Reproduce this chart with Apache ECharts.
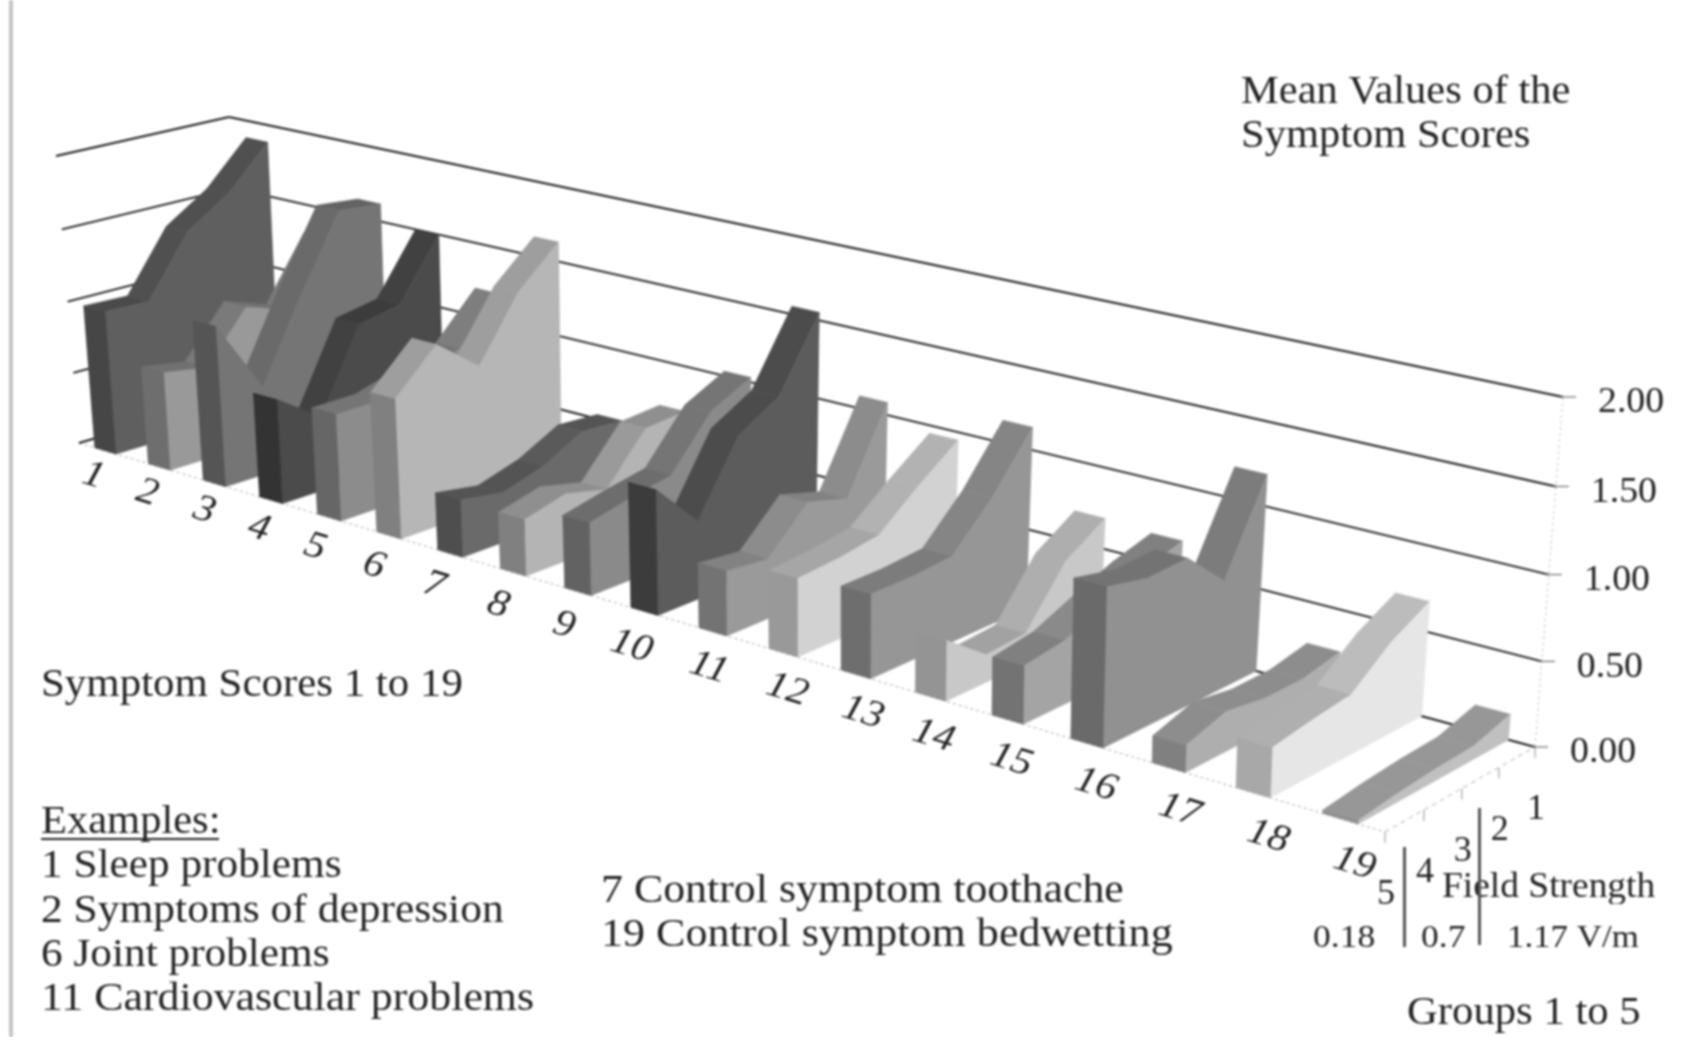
<!DOCTYPE html>
<html>
<head>
<meta charset="utf-8">
<script src="https://cdn.jsdelivr.net/npm/echarts@6/dist/echarts.min.js"></script>
<style>html,body{margin:0;padding:0;background:#fff}#chart{width:1684px;height:1037px;filter:blur(0.8px)}</style>
</head>
<body>
<div id="chart"></div>
<script>
const symptoms = ['1','2','3','4','5','6','7','8','9','10','11','12','13','14','15','16','17','18','19'];
const groupNames = ['5','4','3','2','1'];
const valueTicks = [0, 0.5, 1, 1.5, 2];
const valueLabels = ['0.00','0.50','1.00','1.50','2.00'];
const group1 = [1.88,1.30,1.62,1.50,1.19,1.63,0.53,0.70,1.03,1.55,1.08,0.95,1.14,0.69,0.67,1.19,0.25,0.68,0.15];
const group2 = [1.59,0.87,1.65,1.10,0.90,1.38,0.55,0.68,0.90,1.10,0.56,0.76,0.80,0.53,0.60,0.66,0.20,0.55,0.08];
const group3 = [1.40,0.97,1.15,1.05,0.80,0.97,0.41,0.37,0.58,0.95,0.64,0.55,0.54,0.19,0.50,0.90,0.20,0.36,0.07];
const group4 = [0.99,0.63,0.60,0.50,0.72,1.20,0.33,0.44,0.53,0.50,0.38,0.51,0.52,0.17,0.39,0.89,0.24,0.33,0.05];
const group5 = [1.00,0.68,1.10,0.71,0.72,0.93,0.38,0.37,0.47,0.80,0.41,0.49,0.52,0.37,0.35,0.95,0.16,0.29,0.02];

// styles, front cap / top strip / side wall per symptom
const capColors  = ['#464646','#6e6e6e','#555555','#333333','#666666','#808080','#4e4e4e','#808080','#626262','#3c3c3c','#737373','#999999','#6e6e6e','#949494','#737373','#6a6a6a','#808080','#a8a8a8','#909090'];
const topColors  = ['#505050','#7a7a7a','#6a6a6a','#414141','#7e7e7e','#9e9e9e','#5a5a5a','#9a9a9a','#757575','#4c4c4c','#8c8c8c','#b2b2b2','#858585','#aeaeae','#8a8a8a','#7c7c7c','#989898','#bcbcbc','#a2a2a2'];
const sideColors = ['#5f5f5f','#999999','#757575','#4b4b4b','#8c8c8c','#b6b6b6','#6a6a6a','#b4b4b4','#8a8a8a','#5c5c5c','#9a9a9a','#d2d2d2','#969696','#c8c8c8','#a4a4a4','#919191','#aeaeae','#e6e6e6','#c0c0c0'];
// horizontal nudge of each symptom label from its slot
const labelNudge = [-12,-12,-10,-12,-14,-15,-16,-15,-14,-13,-4,4,7,3,4,9,11,15,14];

// the box of the 3D view, as it lies on the page
const BOX = {
  flb:[79,443], frb:[1385,832], blb:[243,395], brb:[1535,747],
  flt:[56,156], frt:[1401,471], blt:[229,117], brt:[1563,397]
};
const PERSP_S = 1.31, PERSP_D = 1.05, PERSP_V = 1.03, VMAX = 2;
const persp = (a, w) => a / (a + w * (1 - a));
const lerp = (a, b, k) => [a[0] + (b[0] - a[0]) * k, a[1] + (b[1] - a[1]) * k];
// s: 0..19 along symptoms, d: 0..1 from front to back, v: score
function project(s, d, v) {
  const t = persp(s / symptoms.length, PERSP_S), u = persp(d, 1 / PERSP_D);
  const bot = lerp(lerp(BOX.flb, BOX.frb, t), lerp(BOX.blb, BOX.brb, t), u);
  const top = lerp(lerp(BOX.flt, BOX.frt, t), lerp(BOX.blt, BOX.brt, t), u);
  return lerp(bot, top, persp(v / VMAX, PERSP_V));
}
const groups = [group5, group4, group3, group2, group1];
const depth = i => i / (groups.length - 1);
const shade = (hex, k) => {
  const c = Math.round(parseInt(hex.slice(1, 3), 16) * k);
  const h = c.toString(16).padStart(2, '0');
  return '#' + h + h + h;
};
const poly = (pts, fill, api) => ({
  type: 'polygon',
  shape: { points: pts.map(p => api.coord(p)) },
  style: { fill, stroke: fill, lineWidth: 0.6 }
});
const line = (a, b, stroke, lineWidth, api, lineDash) => {
  const p = api.coord(a), q = api.coord(b);
  return { type: 'line', shape: { x1: p[0], y1: p[1], x2: q[0], y2: q[1] },
    style: { stroke, lineWidth, lineDash: lineDash || null } };
};
const SERIF = '"Liberation Serif", serif';

function renderRibbon(params, api) {
  const i = api.value(0);
  const a = i + 0.3, b = i + 0.7;
  const vals = groups.map(g => g[i]);
  const kids = [];
  for (let k = vals.length - 2; k >= 0; k--) {
    // flatter facets catch less light than the steep ones
    const fill = Math.abs(vals[k + 1] - vals[k]) < 0.1 ? shade(topColors[i], 0.93) : topColors[i];
    kids.push(poly([project(a, depth(k), vals[k]), project(b, depth(k), vals[k]),
      project(b, depth(k + 1), vals[k + 1]), project(a, depth(k + 1), vals[k + 1])], fill, api));
  }
  const side = vals.map((v, k) => project(b, depth(k), v));
  side.push(project(b, 1, 0), project(b, 0, 0));
  kids.push(poly(side, sideColors[i], api));
  kids.push(poly([project(a, 0, 0), project(b, 0, 0), project(b, 0, vals[0]), project(a, 0, vals[0])], capColors[i], api));
  return { type: 'group', children: kids };
}
function renderWall(params, api) {
  const v = api.value(0);
  const n = symptoms.length;
  const kids = [
    line(project(0, 0, v), project(0, 1, v), '#1c1c1c', 1.9, api),
    line(project(0, 1, v), project(n, 1, v), '#1c1c1c', 1.9, api)
  ];
  const e = project(n, 1, v), c = api.coord(e);
  kids.push({ type: 'line', shape: { x1: c[0] - 3, y1: c[1], x2: c[0] + 13, y2: c[1] }, style: { stroke: '#777', lineWidth: 1.3 } });
  kids.push({ type: 'text', x: c[0] + 35, y: c[1] + 6, scaleX: 1.05, style: { text: valueLabels[params.dataIndex],
    font: '36px ' + SERIF, fill: '#222', textAlign: 'left', textVerticalAlign: 'middle' } });
  return { type: 'group', children: kids };
}
function renderFloor(params, api) {
  const n = symptoms.length;
  const kids = [
    line(project(0, 0, 0), project(n, 0, 0), '#bbb', 1.2, api, [3, 3]),
    line(project(n, 0, 0), project(n, 1, 0), '#c4c4c4', 1.2, api, [5, 4]),
    line(project(n, 1, 0), project(n, 1, VMAX), '#d0d0d0', 1.2, api, [3, 3])
  ];
  groupNames.forEach((g, k) => {
    const c = api.coord(project(n, depth(k), 0));
    kids.push({ type: 'line', shape: { x1: c[0], y1: c[1], x2: c[0], y2: c[1] + 11 }, style: { stroke: '#aaa', lineWidth: 1.3 } });
  });
  return { type: 'group', children: kids };
}
function renderSymptomLabel(params, api) {
  const i = api.value(0);
  const t = i / (symptoms.length - 1);
  const c = api.coord(project(i + 0.5, 0, 0));
  return { type: 'text', x: c[0] + labelNudge[i], y: c[1] + 25 + 20 * t, rotation: -0.3, scaleX: 1.1,
    style: { text: symptoms[i], font: 'italic 38px ' + SERIF, fill: '#222', textAlign: 'center', textVerticalAlign: 'middle' } };
}
function renderGroupLabel(params, api) {
  const k = api.value(0);
  const c = api.coord(project(symptoms.length, depth(k), 0));
  return { type: 'text', style: { text: groupNames[k], x: c[0] + 1 , y: c[1] + 63,
    font: '36px ' + SERIF, fill: '#222', textAlign: 'center', textVerticalAlign: 'middle' } };
}

const txt = (text, x, y, size, sx) => ({
  type: 'text', x, y, z: 20, scaleX: sx || 1.12,
  style: { text, font: size + 'px ' + SERIF, fill: '#222', textVerticalAlign: 'middle' }
});

const option = {
  animation: false,
  grid: { left: 0, right: 0, top: 0, bottom: 0 },
  xAxis: { type: 'value', min: 0, max: 1684, show: false },
  yAxis: { type: 'value', min: 0, max: 1037, inverse: true, show: false },
  series: [
    { type: 'custom', coordinateSystem: 'cartesian2d', clip: false, silent: true, z: 1, renderItem: renderFloor, data: [[0, 0]], encode: { x: 0, y: 1 } },
    { type: 'custom', coordinateSystem: 'cartesian2d', clip: false, silent: true, z: 2, renderItem: renderWall, data: valueTicks.map(v => [v, 0]), encode: { x: 0, y: 1 } },
    { type: 'custom', coordinateSystem: 'cartesian2d', clip: false, silent: true, z: 3, renderItem: renderRibbon, data: symptoms.map((s, i) => [i, 0]), encode: { x: 0, y: 1 } },
    { type: 'custom', coordinateSystem: 'cartesian2d', clip: false, silent: true, z: 4, renderItem: renderSymptomLabel, data: symptoms.map((s, i) => [i, 0]), encode: { x: 0, y: 1 } },
    { type: 'custom', coordinateSystem: 'cartesian2d', clip: false, silent: true, z: 4, renderItem: renderGroupLabel, data: groupNames.map((s, i) => [i, 0]), encode: { x: 0, y: 1 } }
  ],
  graphic: { elements: [
    { type: 'rect', z: 19, shape: { x: 9, y: 0, width: 4, height: 1037 }, style: { fill: '#c4c4c4' } },
    txt('Mean Values of the', 1241, 93, 39, 1.09),
    txt('Symptom Scores', 1241, 137, 39, 1.09),
    txt('Symptom Scores 1 to 19', 41, 686, 39, 1.10),
    txt('Examples:', 41, 823, 39, 1.09),
    { type: 'rect', z: 20, shape: { x: 41, y: 838, width: 178, height: 2 }, style: { fill: '#222' } },
    txt('1 Sleep problems', 41, 867, 39, 1.11),
    txt('2 Symptoms of depression', 41, 912, 39, 1.115),
    txt('6 Joint problems', 41, 956, 39, 1.11),
    txt('11 Cardiovascular problems', 41, 1000, 39, 1.125),
    txt('7 Control symptom toothache', 601, 892, 39, 1.125),
    txt('19 Control symptom bedwetting', 601, 936, 39, 1.13),
    txt('Field Strength', 1442, 888, 36, 1.04),
    { type: 'rect', z: 21, shape: { x: 1440, y: 904, width: 220, height: 14 }, style: { fill: '#fff' } },
    txt('0.18', 1313, 939, 32, 1.11),
    txt('0.7', 1421, 939, 32, 1.11),
    txt('1.17 V/m', 1507, 939, 32, 1.09),
    txt('Groups 1 to 5', 1407, 1014, 39, 1.095),
    { type: 'rect', z: 22, shape: { x: 1403, y: 847, width: 3, height: 100 }, style: { fill: '#555' } },
    { type: 'rect', z: 22, shape: { x: 1478, y: 808, width: 3, height: 137 }, style: { fill: '#555' } }
  ] }
};
const chart = echarts.init(document.getElementById('chart'), null, { renderer: 'canvas' });
chart.setOption(option);
</script>
</body>
</html>
